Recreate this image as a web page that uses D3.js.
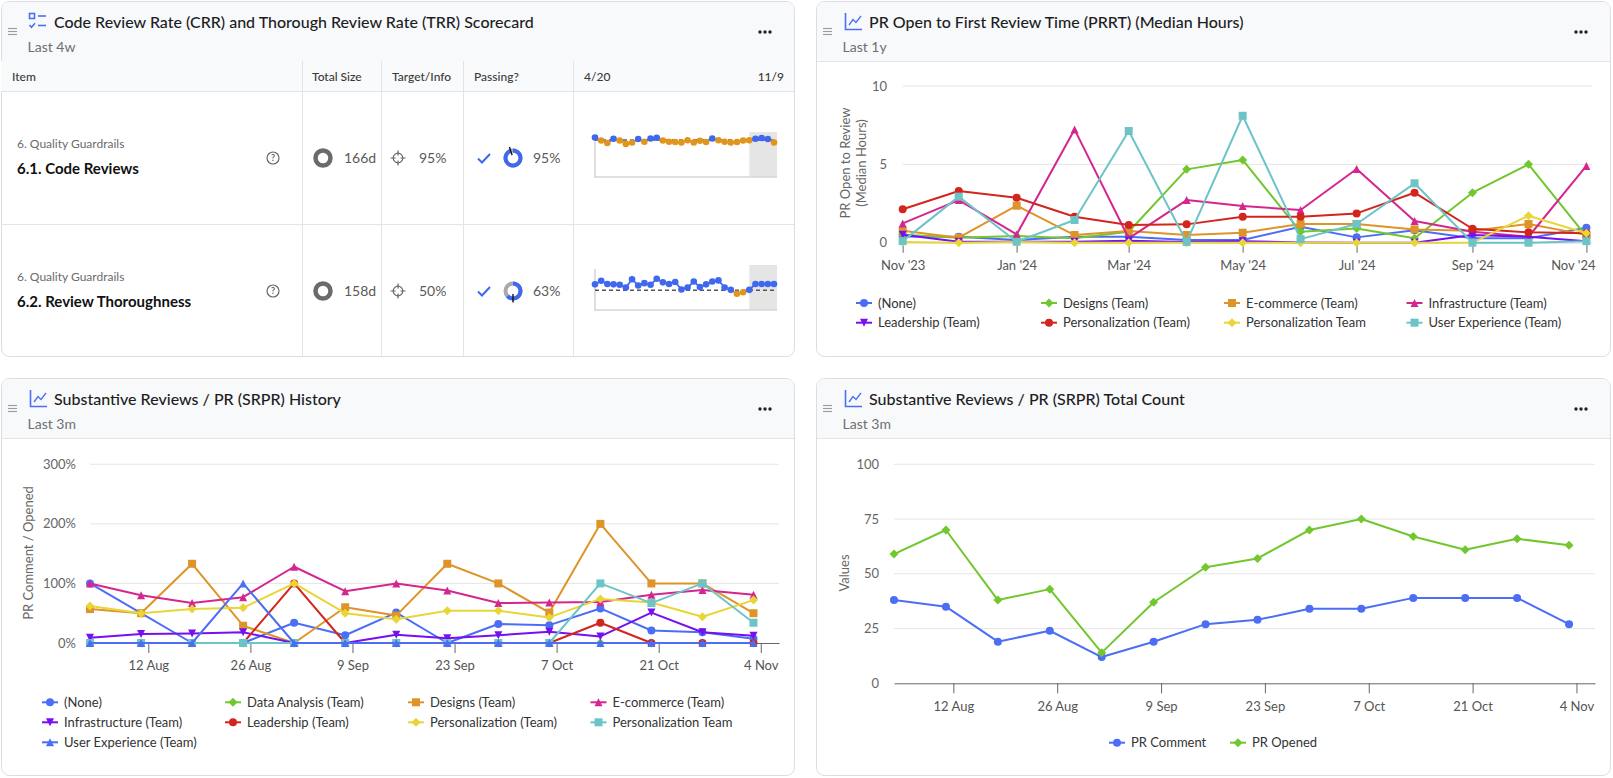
<!DOCTYPE html>
<html>
<head>
<meta charset="utf-8">
<script src="https://cdn.jsdelivr.net/npm/d3@7"></script>
<style>
  body { margin: 0; background: #fff; }
  text { font-family: Lato, "Open Sans", sans-serif; }
</style>
</head>
<body>
<script>
// ---- scorecard data ----
var scoreGroups = ["6. Quality Guardrails", "6. Quality Guardrails"];
var scoreItems = ["6.1. Code Reviews", "6.2. Review Thoroughness"];
var scoreSizes = ["166d", "158d"];
var scoreTargets = [95, 50];
var scoreValues = [95, 63];
var scoreHeaders = ["Item", "Total Size", "Target/Info", "Passing?", "4/20", "11/9"];
var sparkStart = "2024-04-20", sparkEnd = "2024-11-09", sparkShade = "2024-10-12";
var crrHistory = [100, 94, 89, 97.5, 94, 87, 90, 97, 91.5, 98, 99.5, 94, 91.5, 91, 90, 94.5, 90, 93.5, 91, 98,
                  94.5, 91.5, 90, 91, 94, 94.5, 97.5, 99, 97, 90];
var trrHistory = [65, 74, 66, 65, 64, 57, 78, 62, 68, 64, 79, 70, 66, 71, 52, 57, 72, 58, 65, 72,
                  75, 57, 51, 41, 45, 51, 66, 66, 66, 66];

// ---- PRRT (median hours, monthly) ----
var prrtMonths = ["2023-11-01","2023-12-01","2024-01-01","2024-02-01","2024-03-01","2024-04-01","2024-05-01",
                  "2024-06-01","2024-07-01","2024-08-01","2024-09-01","2024-10-01","2024-11-01"];
var prrtTicks = ["2023-11-01","2024-01-01","2024-03-01","2024-05-01","2024-07-01","2024-09-01","2024-11-01"];
var prrtYTicks = [0, 5, 10];
var prrtNames = ["(None)", "Designs (Team)", "E-commerce (Team)", "Infrastructure (Team)",
                 "Leadership (Team)", "Personalization (Team)", "Personalization Team", "User Experience (Team)"];
var prrtNone = [0.4, 0.38, 0.17, 0.38, 0.38, 0.17, 0.17, 1.02, 0.34, 0.79, 0.28, 0.28, 0.95];
var prrtDesigns = [0.5, 0.32, 0.43, 0.28, 0.7, 4.68, 5.28, 0.7, 0.91, 0.28, 3.19, 5.0, 0.4];
var prrtEcommerce = [0.77, 0.32, 2.36, 0.49, 0.74, 0.49, 0.64, 1.19, 1.19, 0.85, 0.77, 1.19, 0.5];
var prrtInfra = [1.23, 2.72, 0.53, 7.23, 0.28, 2.72, 2.34, 2.09, 4.7, 1.38, 0.7, 0.38, 4.9];
var prrtLeadership = [0.5, 0.06, 0.06, 0.06, 0.13, 0.05, 0.1, 0.02, 0, 0, 0.49, 0.38, 0.1];
var prrtPersonalization = [2.13, 3.3, 2.87, 1.66, 1.13, 1.17, 1.66, 1.66, 1.87, 3.19, 0.89, 0.66, 0.6];
var prrtPersTeam = [0.05, 0, 0.05, 0, 0, 0, 0, 0, 0, 0, 0, 1.72, 0.6];
var prrtUX = [0.1, 2.94, 0.06, 1.45, 7.13, 0.05, 8.1, 0.23, 1.19, 3.79, 0, 0, 0.1];

// ---- SRPR history (%, weekly) ----
var srprWeeks = ["2024-08-04","2024-08-11","2024-08-18","2024-08-25","2024-09-01","2024-09-08","2024-09-15",
                 "2024-09-22","2024-09-29","2024-10-06","2024-10-13","2024-10-20","2024-10-27","2024-11-03"];
var srprTicks = ["2024-08-12","2024-08-26","2024-09-09","2024-09-23","2024-10-07","2024-10-21","2024-11-04"];
var srprYTicks = [0, 100, 200, 300];
var srprNames = ["(None)", "Data Analysis (Team)", "Designs (Team)", "E-commerce (Team)", "Infrastructure (Team)",
                 "Leadership (Team)", "Personalization (Team)", "Personalization Team", "User Experience (Team)"];
var srprNone = [100, 50, 0, 0, 34, 13, 51, 0, 32, 30, 58, 21, 18, 7];
var srprDataAnalysis = [0, 0, 0, 0, 0, 0, 0, 0, 0, 0, 0, 0, 0, 0];
var srprDesigns = [57, 50, 133, 29, 0, 60, 46, 133, 100, 51, 200, 100, 100, 50];
var srprEcommerce = [100, 80, 67, 77, 128, 87, 100, 88, 67, 68, 69, 81, 89, 81];
var srprInfra = [9, 15, 16, 18, 0, 0, 14, 8, 13, 19, 11, 51, 18, 12];
var srprLeadership = [0, 0, 0, 0, 100, 0, 0, 0, 0, 0, 34, 0, 0, 0];
var srprPersonalization = [62, 50, 57, 59, 100, 50, 40, 54, 54, 43, 74, 68, 44, 72];
var srprPersTeam = [0, 0, 0, 0, 0, 0, 0, 0, 0, 0, 100, 67, 100, 34];
var srprUX = [0, 0, 0, 100, 0, 0, 0, 0, 0, 0, 0, 0, 0, 0];

// ---- SRPR total count ----
var countNames = ["PR Comment", "PR Opened"];
var countYTicks = [0, 25, 50, 75, 100];
var prComment = [38, 35, 19, 24, 12, 19, 27, 29, 34, 34, 39, 39, 39, 27];
var prOpened = [59, 70, 38, 43, 14, 37, 53, 57, 70, 75, 67, 61, 66, 63];

var palette = ["#4c6ef5", "#72c62e", "#de9428", "#d4268e", "#7610f0", "#d2261c", "#e8d638", "#6dc4c6"];
var shapes = ["circle", "diamond", "square", "triangle", "triangle-down"];
var BLUE = "#3f68ef", ORANGE = "#e0951f";

var parse = d3.utcParse("%Y-%m-%d");
var svg = d3.select("body").append("svg").attr("width", 1613).attr("height", 778);

function symbolPath(type, r) {
  if (type == "circle") return "M" + (-r) + ",0a" + r + "," + r + " 0 1,0 " + (2*r) + ",0a" + r + "," + r + " 0 1,0 " + (-2*r) + ",0Z";
  if (type == "square") return "M" + (-r) + "," + (-r) + "h" + 2*r + "v" + 2*r + "h" + (-2*r) + "Z";
  if (type == "diamond") return "M0," + (-r-0.5) + "L" + (r+0.5) + ",0L0," + (r+0.5) + "L" + (-r-0.5) + ",0Z";
  if (type == "triangle") return "M0," + (-r) + "L" + r + "," + r + "L" + (-r) + "," + r + "Z";
  return "M" + (-r) + "," + (-r) + "L" + r + "," + (-r) + "L0," + r + "Z";
}

// panel frame with header
function panel(x, y, w, h, title, sub, icon) {
  var g = svg.append("g").attr("transform", "translate(" + x + "," + y + ")");
  g.append("rect").attr("x", 0.5).attr("y", 0.5).attr("width", w - 1).attr("height", h - 1).attr("rx", 8)
    .attr("fill", "#fff").attr("stroke", "#dcdde1");
  g.append("path").attr("d", "M1,60V8.5Q1,1 8.5,1H" + (w - 8.5) + "Q" + (w - 1) + ",1 " + (w - 1) + ",8.5V60Z").attr("fill", "#f8f9fb");
  g.append("line").attr("x1", 1).attr("x2", w - 1).attr("y1", 60.5).attr("y2", 60.5).attr("stroke", "#e3e4e8");
  [27.5, 30.5, 33.5].forEach(function(yy) {
    g.append("line").attr("x1", 7).attr("x2", 16).attr("y1", yy).attr("y2", yy).attr("stroke", "#9b9b9b").attr("stroke-width", 1.1);
  });
  var ic = g.append("g").attr("fill", "none").attr("stroke", "#4c6ef5").attr("stroke-width", 1.6);
  if (icon == "list") {
    ic.append("rect").attr("x", 28.5).attr("y", 12.5).attr("width", 5).attr("height", 5);
    ic.append("line").attr("x1", 37).attr("x2", 45).attr("y1", 15).attr("y2", 15);
    ic.append("path").attr("d", "M28.5,24l2,2.2l3.5,-4");
    ic.append("line").attr("x1", 37).attr("x2", 45).attr("y1", 24.5).attr("y2", 24.5);
  } else {
    ic.append("path").attr("d", "M29.5,12V28.5H46");
    ic.append("path").attr("d", "M33,24L37,18.5L40,21.5L45,15").attr("stroke-width", 1.3);
  }
  g.append("text").attr("x", 53).attr("y", 21).attr("dy", "0.35em").attr("font-size", 16).attr("font-weight", 500)
    .attr("fill", "#1d1d1f").text(title);
  g.append("text").attr("x", 26.5).attr("y", 46).attr("dy", "0.35em").attr("font-size", 14).attr("fill", "#6f6f6f").text(sub);
  [-5, 0, 5].forEach(function(dx) {
    g.append("circle").attr("cx", w - 30 + dx).attr("cy", 31).attr("r", 1.7).attr("fill", "#222");
  });
  return g;
}

// generic line chart using scales + axes
function lineChart(c) {
  var g = svg.append("g");
  var x0 = c.x.range()[0], x1 = c.x.range()[1];
  g.selectAll("line.grid").data(c.yTicks.filter(function(d) { return d != 0; })).join("line").attr("class", "grid")
    .attr("x1", x0).attr("x2", x1).attr("y1", function(d) { return c.y(d); }).attr("y2", function(d) { return c.y(d); })
    .attr("stroke", "#e6e6e6");
  g.selectAll("text.yl").data(c.yTicks).join("text").attr("class", "yl")
    .attr("x", c.yLabelX).attr("y", function(d) { return c.y(d); }).attr("dy", "0.35em").attr("text-anchor", "end")
    .attr("font-size", 13).attr("fill", "#666").text(c.yFmt);
  c.yTitle.forEach(function(t, i) {
    g.append("text").attr("transform", "translate(" + c.yTitleX[i] + "," + c.yTitleY + ") rotate(-90)")
      .attr("text-anchor", "middle").attr("dy", "0.35em").attr("font-size", 13).attr("fill", "#666").text(t);
  });
  var ax = g.append("g").attr("transform", "translate(0," + c.y(0) + ")")
    .call(d3.axisBottom(c.x).tickValues(c.xTicks.map(parse)).tickFormat(c.xFmt).tickSizeInner(10).tickSizeOuter(0).tickPadding(8));
  ax.attr("font-family", null);
  ax.select(".domain").attr("stroke", c.axisColor);
  ax.selectAll(".tick line").attr("stroke", c.tickColor).attr("stroke-width", c.tickWidth);
  ax.selectAll(".tick text").attr("font-size", 13).attr("fill", "#555");
  if (c.lastLabelRight) {
    var last = ax.selectAll(".tick text").filter(function(d, i, n) { return i == n.length - 1; });
    var lx = c.x(parse(c.xTicks[c.xTicks.length - 1]));
    if (lx + 22 > c.lastLabelRight) last.attr("text-anchor", "end").attr("x", c.lastLabelRight - lx);
  }
  var line = d3.line().x(function(d) { return c.x(d.date); }).y(function(d) { return c.y(d.v); });
  c.series.forEach(function(s, i) {
    var pts = s.values.map(function(v, k) { return { date: parse(c.dates[k]), v: v }; });
    var color = palette[i % 8], shape = shapes[i % 5];
    g.append("path").datum(pts).attr("d", line).attr("fill", "none").attr("stroke", color).attr("stroke-width", 2)
      .attr("stroke-linejoin", "round");
    g.selectAll(null).data(pts).join("path")
      .attr("transform", function(d) { return "translate(" + c.x(d.date) + "," + c.y(d.v) + ")"; })
      .attr("d", symbolPath(shape, 4)).attr("fill", color);
    var lx = c.legendX[i % c.legendX.length], ly = c.legendY[Math.floor(i / c.legendX.length)];
    g.append("line").attr("x1", lx - 8).attr("x2", lx + 8).attr("y1", ly).attr("y2", ly).attr("stroke", color).attr("stroke-width", 2);
    g.append("path").attr("transform", "translate(" + lx + "," + ly + ")").attr("d", symbolPath(shape, 4)).attr("fill", color);
    g.append("text").attr("x", lx + 14).attr("y", ly).attr("dy", "0.35em").attr("font-size", 13).attr("fill", "#333").text(s.name);
  });
}

// ================= panels =================
panel(1, 1, 794, 356, "Code Review Rate (CRR) and Thorough Review Rate (TRR) Scorecard", "Last 4w", "list");
panel(816, 1, 795, 356, "PR Open to First Review Time (PRRT) (Median Hours)", "Last 1y", "chart");
panel(1, 378, 794, 398, "Substantive Reviews / PR (SRPR) History", "Last 3m", "chart");
panel(816, 378, 795, 398, "Substantive Reviews / PR (SRPR) Total Count", "Last 3m", "chart");

// ================= scorecard table =================
var sc = svg.append("g");
sc.append("rect").attr("x", 1).attr("y", 61).attr("width", 793).attr("height", 30).attr("fill", "#f9fafb");
sc.append("line").attr("x1", 1).attr("x2", 794).attr("y1", 91.5).attr("y2", 91.5).attr("stroke", "#e3e4e8");
sc.append("line").attr("x1", 1).attr("x2", 794).attr("y1", 224.5).attr("y2", 224.5).attr("stroke", "#e3e4e8");
[302.5, 381.5, 463.5, 573.5].forEach(function(cx) {
  sc.append("line").attr("x1", cx).attr("x2", cx).attr("y1", 61).attr("y2", 356).attr("stroke", "#e3e4e8");
});
var headX = [12, 312, 392, 474, 584, 784];
scoreHeaders.forEach(function(h, i) {
  sc.append("text").attr("x", headX[i]).attr("y", 77).attr("dy", "0.35em").attr("font-size", 12).attr("font-weight", 500)
    .attr("fill", "#3a3a3a").attr("text-anchor", i == 5 ? "end" : "start").text(h);
});

var rowCenters = [158, 291];
var sparkMin = [20, 0];
var sx = d3.scaleUtc().domain([parse(sparkStart), parse(sparkEnd)]).range([595, 774]);
var ringArc = d3.arc().innerRadius(5.5).outerRadius(9.5);

scoreItems.forEach(function(name, i) {
  var cy = rowCenters[i];
  sc.append("text").attr("x", 17).attr("y", cy - 14).attr("dy", "0.35em").attr("font-size", 12).attr("fill", "#6b6b6b").text(scoreGroups[i]);
  sc.append("text").attr("x", 17).attr("y", cy + 11).attr("dy", "0.35em").attr("font-size", 15).attr("font-weight", 700)
    .attr("fill", "#111").text(name);
  // help icon
  sc.append("circle").attr("cx", 273).attr("cy", cy).attr("r", 6).attr("fill", "none").attr("stroke", "#666").attr("stroke-width", 1.2);
  sc.append("text").attr("x", 273).attr("y", cy).attr("dy", "0.35em").attr("text-anchor", "middle").attr("font-size", 9)
    .attr("font-weight", 700).attr("fill", "#666").text("?");
  // size ring
  sc.append("circle").attr("cx", 323).attr("cy", cy).attr("r", 7.5).attr("fill", "none").attr("stroke", "#6b6b6b").attr("stroke-width", 4.5);
  sc.append("text").attr("x", 344).attr("y", cy).attr("dy", "0.35em").attr("font-size", 14).attr("fill", "#5a5a5a").text(scoreSizes[i]);
  // target crosshair
  var t = sc.append("g").attr("transform", "translate(398," + cy + ")").attr("stroke", "#666").attr("stroke-width", 1.2).attr("fill", "none");
  t.append("circle").attr("r", 4.8);
  t.append("path").attr("d", "M0,-7.5V-2.5M0,2.5V7.5M-7.5,0H-2.5M2.5,0H7.5");
  sc.append("text").attr("x", 419).attr("y", cy).attr("dy", "0.35em").attr("font-size", 14).attr("fill", "#5a5a5a").text(scoreTargets[i] + "%");
  // passing check + ring
  sc.append("path").attr("d", "M478," + (cy + 0.5) + "l4,4l8,-8.5").attr("fill", "none").attr("stroke", BLUE).attr("stroke-width", 2);
  var pg = sc.append("g").attr("transform", "translate(513," + cy + ")");
  pg.append("path").attr("d", ringArc({ startAngle: 0, endAngle: 2 * Math.PI })).attr("fill", "#a9a9a9");
  pg.append("path").attr("d", ringArc({ startAngle: 0, endAngle: 2 * Math.PI * scoreValues[i] / 100 })).attr("fill", BLUE);
  var ta = 2 * Math.PI * scoreTargets[i] / 100;
  pg.append("line").attr("x1", 3 * Math.sin(ta)).attr("y1", -3 * Math.cos(ta)).attr("x2", 11.5 * Math.sin(ta)).attr("y2", -11.5 * Math.cos(ta))
    .attr("stroke", "#111").attr("stroke-width", 1.4);
  sc.append("text").attr("x", 533).attr("y", cy).attr("dy", "0.35em").attr("font-size", 14).attr("fill", "#5a5a5a").text(scoreValues[i] + "%");

  // sparkline
  var hist = i == 0 ? crrHistory : trrHistory;
  var sy = d3.scaleLinear().domain([sparkMin[i], 100]).range([cy + 19, cy - 20.5]);
  var sp = hist.map(function(v, k) { return { date: d3.utcDay.offset(parse(sparkStart), 7 * k), v: v }; });
  sc.append("rect").attr("x", sx(parse(sparkShade))).attr("y", cy - 26).attr("width", 777 - sx(parse(sparkShade))).attr("height", 45)
    .attr("fill", "#e5e5e5");
  sc.append("path").attr("d", "M595," + (cy - 22) + "V" + (cy + 19) + "H777").attr("fill", "none").attr("stroke", "#d6d6d6").attr("stroke-width", 1.6);
  sc.append("line").attr("x1", 595).attr("x2", 777).attr("y1", sy(scoreTargets[i])).attr("y2", sy(scoreTargets[i]))
    .attr("stroke", "#555").attr("stroke-width", 1.5).attr("stroke-dasharray", "4,3");
  var col = function(d) { return d.v >= scoreTargets[i] ? BLUE : ORANGE; };
  for (var k = 1; k < sp.length; k++) {
    sc.append("line").attr("x1", sx(sp[k - 1].date)).attr("y1", sy(sp[k - 1].v)).attr("x2", sx(sp[k].date)).attr("y2", sy(sp[k].v))
      .attr("stroke", col(sp[k])).attr("stroke-width", 1.8);
  }
  sc.selectAll(null).data(sp).join("circle").attr("cx", function(d) { return sx(d.date); }).attr("cy", function(d) { return sy(d.v); })
    .attr("r", 3.3).attr("fill", col);
});

// ================= PRRT chart =================
var prrtValues = [prrtNone, prrtDesigns, prrtEcommerce, prrtInfra, prrtLeadership, prrtPersonalization, prrtPersTeam, prrtUX];
lineChart({
  x: d3.scaleUtc().domain([parse("2023-11-01"), parse("2024-11-04")]).range([902.7, 1592]),
  y: d3.scaleLinear().domain([0, 10]).range([242.7, 86]),
  dates: prrtMonths, xTicks: prrtTicks, xFmt: d3.utcFormat("%b '%y"), yTicks: prrtYTicks, yFmt: function(d) { return d; },
  yLabelX: 887, yTitle: ["PR Open to Review", "(Median Hours)"], yTitleX: [845, 861], yTitleY: 163,
  axisColor: "#e0e0e0", tickColor: "#999", tickWidth: 1.5, lastLabelRight: 1595,
  series: prrtNames.map(function(n, i) { return { name: n, values: prrtValues[i] }; }),
  legendX: [864, 1049, 1232, 1414.5], legendY: [303, 322.7]
});

// ================= SRPR history =================
var srprValues = [srprNone, srprDataAnalysis, srprDesigns, srprEcommerce, srprInfra, srprLeadership, srprPersonalization, srprPersTeam, srprUX];
var srprDomain = [parse("2024-08-04"), d3.utcHour.offset(parse("2024-11-06"), 12)];
lineChart({
  x: d3.scaleUtc().domain(srprDomain).range([90, 779]),
  y: d3.scaleLinear().domain([0, 300]).range([643, 464.3]),
  dates: srprWeeks, xTicks: srprTicks, xFmt: d3.utcFormat("%-d %b"), yTicks: srprYTicks, yFmt: function(d) { return d + "%"; },
  yLabelX: 76, yTitle: ["PR Comment / Opened"], yTitleX: [28], yTitleY: 553,
  axisColor: "#666", tickColor: "#666", tickWidth: 1,
  series: srprNames.map(function(n, i) { return { name: n, values: srprValues[i] }; }),
  legendX: [50, 233, 416, 598.5], legendY: [702.3, 722.3, 742.3]
});

// ================= SRPR total count =================
lineChart({
  x: d3.scaleUtc().domain(srprDomain).range([894, 1595]),
  y: d3.scaleLinear().domain([0, 100]).range([683.3, 464.3]),
  dates: srprWeeks, xTicks: srprTicks, xFmt: d3.utcFormat("%-d %b"), yTicks: countYTicks, yFmt: function(d) { return d; },
  yLabelX: 879, yTitle: ["Values"], yTitleX: [844], yTitleY: 573,
  axisColor: "#666", tickColor: "#666", tickWidth: 1,
  series: [{ name: countNames[0], values: prComment }, { name: countNames[1], values: prOpened }],
  legendX: [1117, 1238], legendY: [742.7]
});
</script>
</body>
</html>
